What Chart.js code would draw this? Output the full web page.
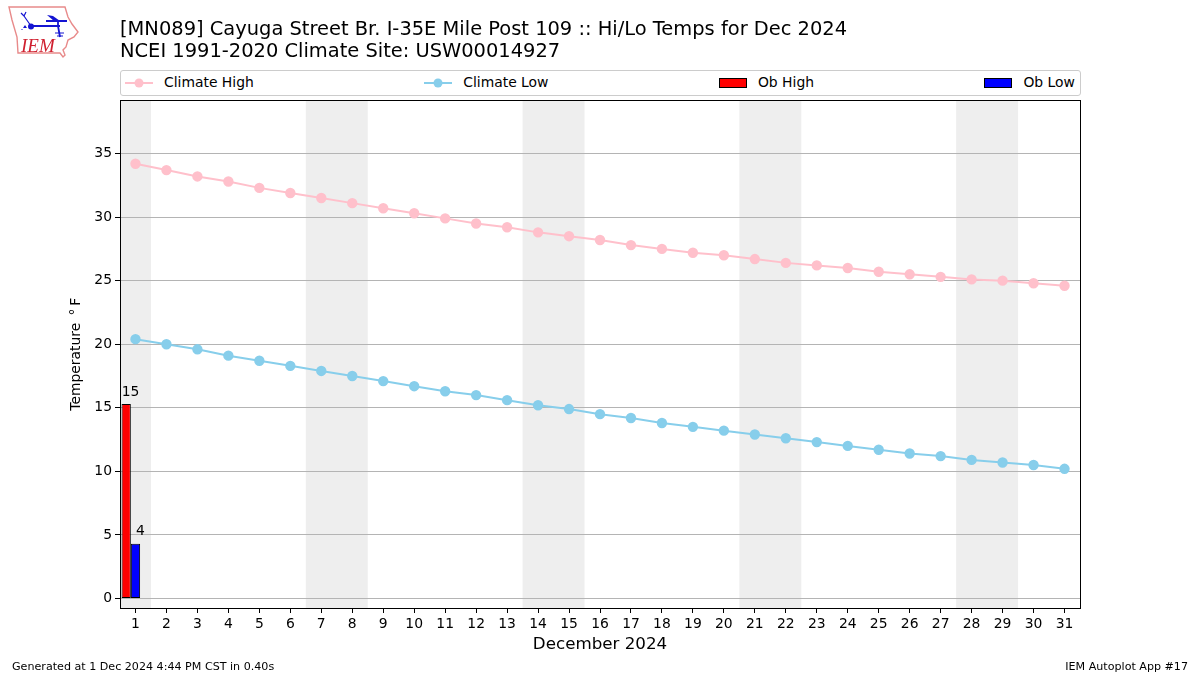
<!DOCTYPE html>
<html>
<head>
<meta charset="utf-8">
<title>Hi/Lo Temps</title>
<script src="https://cdn.jsdelivr.net/npm/chart.js@4/dist/chart.umd.min.js"></script>
<style>
    body { margin: 0; background: #fff; }
    #wrap { position: relative; width: 1200px; height: 675px; overflow: hidden; font-family: "DejaVu Sans", sans-serif; }
    #logo { position: absolute; left: 0; top: 0; }
    .foot { position: absolute; top: 660px; font-size: 11.11px; color: #000; }
    #legend {
        position: absolute; left: 120px; top: 70px; width: 961px; height: 26px; box-sizing: border-box;
        border: 1px solid #ccc; border-radius: 3px; background: #fff;
        display: flex; justify-content: space-between; align-items: center; padding: 0 5px 2px 4px;
        font-size: 13.9px; color: #000;
    }
    #legend span { display: flex; align-items: center; }
    #legend canvas { margin-right: 11px; position: relative; top: 1px; }
</style>
</head>
<body>
<div id="wrap">
    <canvas id="tempChart" width="1200" height="675"></canvas>
    <div id="legend"></div>
    <svg id="logo" width="90" height="65" viewBox="0 0 90 65">
        <path d="M9 7 L65 7 L68 17 L72 24 L78 32 L74 37 L68 40 L66 47 L63 50 L65 55 L63 57 L60 53 L18 53 L17 37 L12 20 Z" fill="#fff" stroke="#e88a8a" stroke-width="1.4"/>
        <path d="M31 26 L60 26 M58 26 L60 37 M46 21 L67 21 M58 21 L58 26" stroke="#1414d2" stroke-width="1.8" fill="none"/>
        <path d="M31 26 L24 16 M24 16 L21 13 M24 16 L26 12 M55 33 L64 33 M57 36 L63 36" stroke="#1414d2" stroke-width="1.2" fill="none"/>
        <circle cx="31" cy="26.5" r="3" fill="#1414d2"/>
        <path d="M47 15 L53 16 L60 21 L54 21 Z" fill="#1414d2"/>
        <path d="M25 25 L27 28 L23 28 Z M22 29 L23 30 L21 30 Z" fill="#1414d2"/>
        <text x="21" y="52" font-family="Liberation Serif" font-style="italic" font-size="19" fill="#d02030">IEM</text>
    </svg>
    <div class="foot" style="left:12px">Generated at 1 Dec 2024 4:44 PM CST in 0.40s</div>
    <div class="foot" style="right:12px">IEM Autoplot App #17</div>
</div>
<script>
const days = ["1","2","3","4","5","6","7","8","9","10","11","12","13","14","15","16","17","18","19","20","21","22","23","24","25","26","27","28","29","30","31"];
const climateHigh = [34.2,33.7,33.2,32.8,32.3,31.9,31.5,31.1,30.7,30.3,29.9,29.5,29.2,28.8,28.5,28.2,27.8,27.5,27.2,27.0,26.7,26.4,26.2,26.0,25.7,25.5,25.3,25.1,25.0,24.8,24.6];
const climateLow = [20.4,20.0,19.6,19.1,18.7,18.3,17.9,17.5,17.1,16.7,16.3,16.0,15.6,15.2,14.9,14.5,14.2,13.8,13.5,13.2,12.9,12.6,12.3,12.0,11.7,11.4,11.2,10.9,10.7,10.5,10.2];
const obHigh = [15.3];
const obLow = [4.3];
// weekend bands, first and last day of each
const weekends = [["1","1"],["7","8"],["14","15"],["21","22"],["28","29"]];
const titleLines = ["[MN089] Cayuga Street Br. I-35E Mile Post 109 :: Hi/Lo Temps for Dec 2024", "NCEI 1991-2020 Climate Site: USW00014927"];

const backdrop = {
    id: "backdrop",
    beforeDraw(chart) {
        const ctx = chart.ctx, a = chart.chartArea, x = chart.scales.x, w = x.getPixelForValue(1) - x.getPixelForValue(0);
        ctx.save();
        ctx.fillStyle = "#eeeeee";
        weekends.forEach(([from, to]) => {
            const left = Math.max(a.left, x.getPixelForValue(days.indexOf(from)) - w / 2);
            const right = x.getPixelForValue(days.indexOf(to)) + w / 2;
            ctx.fillRect(left, a.top, right - left, a.bottom - a.top);
        });
        ctx.restore();
    },
    afterDatasetsDraw(chart) {
        const ctx = chart.ctx, a = chart.chartArea;
        ctx.save();
        // value labels over the bars
        ctx.fillStyle = "#000";
        ctx.font = "13.9px 'DejaVu Sans'";
        ctx.textBaseline = "bottom";
        chart.data.datasets.forEach((ds, i) => {
            if (ds.type !== "bar" || !ds.label) return;
            chart.getDatasetMeta(i).data.forEach((bar, j) => {
                if (ds.data[j] == null) return;
                ctx.fillText(String(Math.round(ds.data[j])), bar.x + ds.labelOffset, bar.y - 5);
            });
        });
        // plot frame
        const l = Math.floor(a.left) + 0.5, t = Math.floor(a.top) + 0.5;
        const r = Math.floor(a.right) + 0.5, b = Math.floor(a.bottom) + 0.5;
        ctx.strokeStyle = "#000";
        ctx.lineWidth = 1;
        ctx.strokeRect(l, t, r - l, b - t);
        ctx.restore();
    }
};

Chart.defaults.font.family = "'DejaVu Sans'";
Chart.defaults.color = "#000";

const chart = new Chart(document.getElementById("tempChart"), {
    data: {
        labels: days,
        datasets: [
            { type: "line", label: "Climate High", data: climateHigh, borderColor: "pink", backgroundColor: "pink", borderWidth: 2, pointRadius: 4.2, pointHoverRadius: 4.2 },
            { type: "line", label: "Climate Low", data: climateLow, borderColor: "skyblue", backgroundColor: "skyblue", borderWidth: 2, pointRadius: 4.2, pointHoverRadius: 4.2 },
            { type: "bar", label: "Ob High", data: obHigh, backgroundColor: "#ff0000", borderColor: "#000", borderWidth: 1, borderSkipped: false, labelOffset: -4.5 },
            { type: "bar", label: "Ob Low", data: obLow, backgroundColor: "#0000ff", borderColor: "#000", borderWidth: 1, borderSkipped: false, labelOffset: 0.5 },
            // empty slot so the two bars sit left of the tick
            { type: "bar", label: "", data: [] }
        ]
    },
    options: {
        responsive: false,
        animation: false,
        categoryPercentage: 0.9,
        barPercentage: 1,
        layout: { padding: { left: 60, right: 120, top: 19, bottom: 20 } },
        plugins: {
            tooltip: { enabled: false },
            legend: { display: false },
            title: {
                display: true,
                text: titleLines,
                align: "start",
                fullSize: false,
                font: { size: 19.44, weight: "normal", lineHeight: 1.12 },
                color: "#000",
                padding: { top: 0, bottom: 38 }
            }
        },
        scales: {
            x: {
                type: "category",
                offset: true,
                afterFit(scale) { scale.height = 47; },
                grid: { display: true, drawOnChartArea: false, offset: false, tickColor: "#000", tickLength: 5 },
                border: { display: false },
                ticks: { font: { size: 13.9 }, maxRotation: 0, autoSkip: false, padding: 3 },
                title: { display: true, text: "December 2024", font: { size: 16.7 }, padding: { top: 2, bottom: 0 } }
            },
            y: {
                type: "linear",
                min: -0.75,
                max: 39.17,
                afterFit(scale) { scale.width = 60; },
                grid: { color: "#b4b4b4", lineWidth: 1, tickColor: "#000", tickLength: 5 },
                border: { display: false },
                ticks: { stepSize: 5, includeBounds: false, font: { size: 13.9 }, padding: 3 },
                title: { display: true, text: "Temperature \u2009°\u2009F", font: { size: 13.9 }, padding: { top: 8, bottom: 0 } }
            }
        }
    },
    plugins: [backdrop]
});

// legend row, evenly gapped like the matplotlib one
const legendBox = document.getElementById("legend");
chart.data.datasets.filter(ds => ds.label).forEach(ds => {
    const item = document.createElement("span");
    const h = document.createElement("canvas");
    h.width = 28; h.height = 12;
    const g = h.getContext("2d");
    if (ds.type === "line") {
        g.strokeStyle = ds.borderColor; g.lineWidth = 2;
        g.beginPath(); g.moveTo(0, 6); g.lineTo(28, 6); g.stroke();
        g.fillStyle = ds.backgroundColor;
        g.beginPath(); g.arc(14, 6, 4.5, 0, Math.PI * 2); g.fill();
    } else {
        g.fillStyle = ds.backgroundColor; g.fillRect(0.5, 1.5, 27, 9);
        g.strokeStyle = "#000"; g.lineWidth = 1; g.strokeRect(0.5, 1.5, 27, 9);
    }
    item.appendChild(h);
    item.appendChild(document.createTextNode(ds.label));
    legendBox.appendChild(item);
});
</script>
</body>
</html>
